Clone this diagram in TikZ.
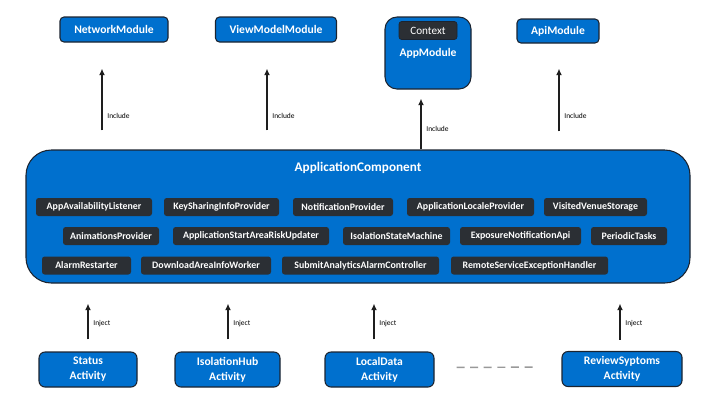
\documentclass[tikz,border=0pt]{standalone}
\usepackage{fontspec}
\setmainfont{Carlito}
\usetikzlibrary{arrows.meta}
\definecolor{bluebox}{RGB}{0,112,206}
\definecolor{darkbox}{RGB}{43,47,52}
\definecolor{edge}{RGB}{28,36,48}
\definecolor{arrowc}{RGB}{30,30,30}
\tikzset{
  mod/.style={draw=edge, line width=0.8pt, fill=bluebox, text=white, rounded corners=3pt,
    inner sep=0pt, font=\bfseries\fontsize{8.7}{10}\selectfont},
  act/.style={draw=edge, line width=0.8pt, fill=bluebox, text=white, rounded corners=4.5pt,
    inner sep=0pt, align=center, minimum height=26.25pt, font=\bfseries\fontsize{8.7}{11.25}\selectfont},
  inner/.style={fill=darkbox, text=white, rounded corners=2pt, inner sep=0pt,
    minimum height=13.5pt, font=\bfseries\fontsize{7.4}{9}\selectfont},
  arr/.style={draw=arrowc, line width=1.1pt, -{Latex[length=5pt,width=4.5pt]}},
  lbl/.style={text=black, font=\fontsize{5.6}{7}\selectfont, inner sep=0pt, xshift=3.5pt, anchor=west},
  dots/.style={draw=gray!80, line width=1.1pt, dash pattern=on 6pt off 4.2pt}
}
\begin{document}
\begin{tikzpicture}[x=0.75pt,y=-0.75pt]
\useasboundingbox (0,0) rectangle (720,405);
% top modules
\node[mod, minimum width=81pt, minimum height=18.75pt] (net) at (114,29.5) {NetworkModule};
\node[mod, minimum width=90.75pt, minimum height=18.75pt] (vm) at (276,29.5) {ViewModelModule};
\node[mod, rounded corners=9pt, minimum width=64.5pt, minimum height=54pt] (app) at (428,53) {};
\node[text=white, font=\bfseries\fontsize{8.7}{10}\selectfont, inner sep=0pt] (applbl) at (428,53) {AppModule};
\node[inner, minimum width=43.5pt, font=\fontsize{8.4}{10}\selectfont, draw=edge, line width=0.5pt] (ctx) at (428,30.5) {Context};
\node[mod, minimum width=61.5pt, minimum height=18pt] (api) at (558,31) {ApiModule};
% component
\node[draw=edge, line width=0.8pt, fill=bluebox, rounded corners=19pt, minimum width=498pt, minimum height=99.75pt, inner sep=0pt] (comp) at (358,216.5) {};
\node[text=white, font=\bfseries\fontsize{9.9}{12}\selectfont, inner sep=0pt] (title) at (358,168) {ApplicationComponent};
% row 1
\node[inner, minimum width=87pt] (r11) at (94,207) {AppAvailabilityListener};
\node[inner, minimum width=86.25pt] (r12) at (221.5,207) {KeySharingInfoProvider};
\node[inner, minimum width=75pt] (r13) at (343,207) {NotificationProvider};
\node[inner, minimum width=95.25pt] (r14) at (470.5,207) {ApplicationLocaleProvider};
\node[inner, minimum width=77.25pt] (r15) at (595.5,207) {VisitedVenueStorage};
% row 2
\node[inner, minimum width=72pt] (r21) at (111,236) {AnimationsProvider};
\node[inner, minimum width=117pt] (r22) at (251,236) {ApplicationStartAreaRiskUpdater};
\node[inner, minimum width=80.25pt] (r23) at (396.5,236) {IsolationStateMachine};
\node[inner, minimum width=90.75pt] (r24) at (520.5,236) {ExposureNotificationApi};
\node[inner, minimum width=57pt] (r25) at (629,236) {PeriodicTasks};
% row 3
\node[inner, minimum width=66.75pt] (r31) at (86.5,265.5) {AlarmRestarter};
\node[inner, minimum width=97.5pt] (r32) at (206,265.5) {DownloadAreaInfoWorker};
\node[inner, minimum width=117.75pt] (r33) at (360.5,265.5) {SubmitAnalyticsAlarmController};
\node[inner, minimum width=117.75pt] (r34) at (529.5,265.5) {RemoteServiceExceptionHandler};
% activities
\node[act, minimum width=73.5pt] (status) at (88,369.5) {Status\\Activity};
\node[act, minimum width=78.75pt] (iso) at (227.5,369.5) {IsolationHub\\Activity};
\node[act, minimum width=81.75pt] (local) at (379.5,369.5) {LocalData\\Activity};
\node[act, minimum width=90pt] (review) at (622,369) {ReviewSyptoms\\Activity};
% arrow columns
\coordinate (cNet) at (102,0);
\coordinate (cVm) at (267,0);
\coordinate (cApp) at (421,0);
\coordinate (cApi) at (559,0);
\coordinate (cSt) at (88,0);
\coordinate (cIso) at (228,0);
\coordinate (cLoc) at (374,0);
\coordinate (cRev) at (620,0);
% include arrows
\draw[arr, shorten <=14.25pt, shorten >=19.5pt] (comp.north -| cNet) -- node[lbl, pos=0.315] {Include} (net.south -| cNet);
\draw[arr, shorten <=14.25pt, shorten >=19.5pt] (comp.north -| cVm) -- node[lbl, pos=0.315] {Include} (vm.south -| cVm);
\draw[arr, shorten >=6.75pt] (comp.north -| cApp) -- node[lbl, pos=0.344] {Include} (app.south -| cApp);
\draw[arr, shorten <=13.5pt, shorten >=18.75pt] (comp.north -| cApi) -- node[lbl, pos=0.318] {Include} (api.south -| cApi);
% inject arrows
\draw[arr, shorten <=9pt, shorten >=15pt] (status.north -| cSt) -- node[lbl, pos=0.406] {Inject} (comp.south -| cSt);
\draw[arr, shorten <=9pt, shorten >=15pt] (iso.north -| cIso) -- node[lbl, pos=0.406] {Inject} (comp.south -| cIso);
\draw[arr, shorten <=9pt, shorten >=15pt] (local.north -| cLoc) -- node[lbl, pos=0.406] {Inject} (comp.south -| cLoc);
\draw[arr, shorten <=8.25pt, shorten >=15pt] (review.north -| cRev) -- node[lbl, pos=0.41] {Inject} (comp.south -| cRev);
% dashed continuation
\draw[dots, shorten <=16.5pt, shorten >=19.5pt] ([yshift=1.5pt]local.east) -- ([yshift=1.5pt]review.west);
\end{tikzpicture}
\end{document}
